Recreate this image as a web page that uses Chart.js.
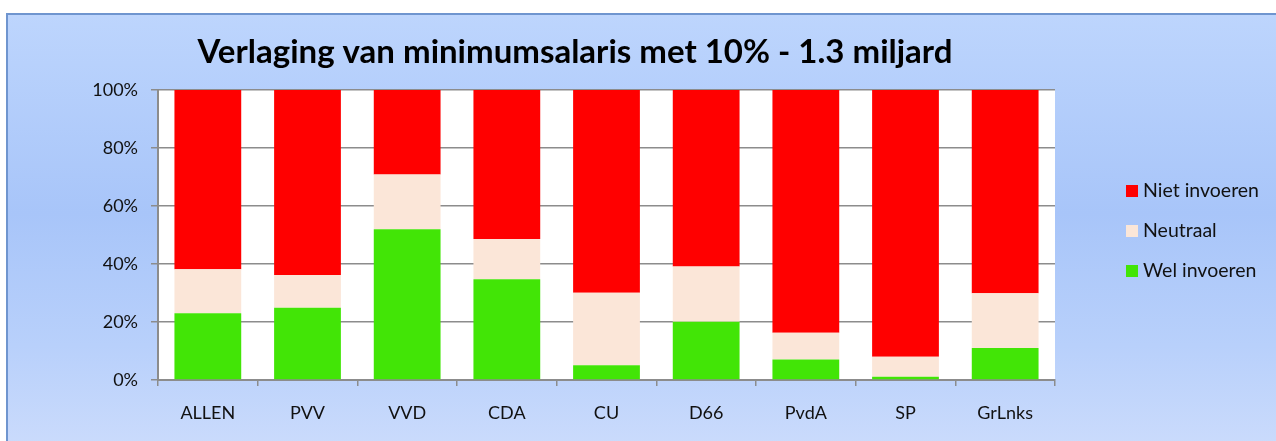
<!DOCTYPE html>
<html>
<head>
<meta charset="utf-8">
<script src="https://cdn.jsdelivr.net/npm/chart.js@4"></script>
<style>
  body { margin: 0; background: #fff; width: 1276px; height: 441px; overflow: hidden; position: relative; }
  #frame {
    position: absolute; left: 6px; top: 13px; width: 1280px; height: 440px;
    border-top: 2px solid #6f95cf; border-left: 2px solid #6f95cf;
    background: linear-gradient(to bottom, #bdd5fd 0%, #a8c5f9 45%, #b8d0fb 75%, #ccdcfc 100%);
  }
  #wrap { position: absolute; left: 0; top: 0; width: 1276px; height: 441px; }
</style>
</head>
<body>
<div id="frame"></div>
<div id="wrap"><canvas id="chart" width="1276" height="441"></canvas></div>
<script>
const parties = ["ALLEN", "PVV", "VVD", "CDA", "CU", "D66", "PvdA", "SP", "GrLnks"];
const welInvoeren = [23.0, 24.9, 52.0, 34.7, 5.1, 20.1, 7.1, 1.1, 11.0];
const neutraal = [15.2, 11.3, 18.9, 13.9, 25.0, 19.0, 9.2, 6.9, 18.9];
const nietInvoeren = [61.8, 63.8, 29.1, 51.4, 69.9, 60.9, 83.7, 92.0, 70.1];
const yTicks = [0, 20, 40, 60, 80, 100];

const font = "Lato, 'Open Sans', sans-serif";

// white plot area + title + legend drawn in one plugin
const decor = {
  id: "decor",
  beforeDraw(chart) {
    const { ctx, chartArea: a } = chart;
    ctx.save();
    ctx.fillStyle = "#ffffff";
    ctx.fillRect(a.left, a.top, a.right - a.left, a.bottom - a.top);
    ctx.restore();
  },
  afterDraw(chart) {
    const ctx = chart.ctx;
    ctx.save();
    ctx.fillStyle = "#000";
    ctx.font = "bold 33px " + font;
    ctx.textAlign = "center";
    ctx.textBaseline = "middle";
    ctx.fillText("Verlaging van minimumsalaris met 10% - 1.3 miljard", 575, 52);

    // legend, top item is the top of the stack
    ctx.font = "19.5px " + font;
    ctx.textAlign = "left";
    const ds = chart.data.datasets.slice().reverse();
    ds.forEach((d, i) => {
      const y = 191 + i * 40;
      ctx.fillStyle = d.backgroundColor;
      ctx.fillRect(1126, y - 6, 12, 12);
      ctx.fillStyle = "#111";
      ctx.fillText(d.label, 1143, y);
    });
    ctx.restore();
  }
};

new Chart(document.getElementById("chart"), {
  type: "bar",
  data: {
    labels: parties,
    datasets: [
      { label: "Wel invoeren", data: welInvoeren, backgroundColor: "#42e506" },
      { label: "Neutraal", data: neutraal, backgroundColor: "#fbe6d8" },
      { label: "Niet invoeren", data: nietInvoeren, backgroundColor: "#ff0000" }
    ]
  },
  options: {
    responsive: false,
    animation: false,
    devicePixelRatio: 1,
    layout: { padding: { top: 90, right: 221, left: 0, bottom: 0 } },
    datasets: { bar: { categoryPercentage: 1, barPercentage: 0.67, borderWidth: 0 } },
    plugins: { legend: { display: false }, tooltip: { enabled: false } },
    scales: {
      x: {
        stacked: true,
        offset: true,
        grid: { offset: true, drawOnChartArea: false, color: "#8c8c8c", tickLength: 6, lineWidth: 1.5 },
        border: { color: "#8c8c8c", width: 2 },
        ticks: { color: "#111", font: { family: font, size: 18 }, padding: 16 },
        afterFit(s) { s.height = 61; }
      },
      y: {
        stacked: true,
        min: 0, max: 100,
        afterBuildTicks(s) { s.ticks = yTicks.map(v => ({ value: v })); },
        grid: { color: "#8c8c8c", lineWidth: 1.5, tickLength: 7 },
        border: { color: "#8c8c8c", width: 2 },
        ticks: { color: "#111", font: { family: font, size: 18 }, padding: 13, callback: v => v + "%" },
        afterFit(s) { s.width = 158; }
      }
    }
  },
  plugins: [decor]
});
</script>
</body>
</html>
